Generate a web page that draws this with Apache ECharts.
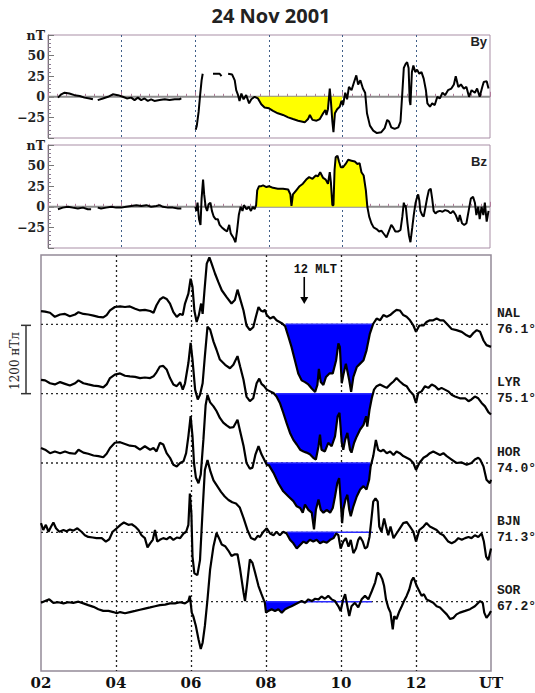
<!DOCTYPE html>
<html><head><meta charset="utf-8">
<script src="https://cdn.jsdelivr.net/npm/echarts@6/dist/echarts.min.js"></script>
<style>html,body{margin:0;padding:0;background:#fff}#c{width:535px;height:693px}</style>
</head><body><div id="c"></div>
<script>
// ---------- DATA ----------
const title = '24 Nov 2001';
const timeLabels = ['02','04','06','08','10','12','UT'];   // at 2,4,...,14 h UT
const imfNames = ['By','Bz'];
const imfUnit = 'nT';

// IMF By (nT), [UT hour, value]; null = data gap
const byData = [[2.27,-1],[2.36,3],[2.45,5],[2.58,4],[2.72,2],[2.86,1],[2.99,-1],[3.13,-2],[3.22,-3],[3.27,null],[3.35,-4],[3.49,-2],[3.63,0],[3.76,3],[3.90,2],[4.03,0],[4.14,-2],[4.26,-1],[4.35,-4],[4.44,-1],[4.53,-4],[4.62,-2],[4.71,-5],[4.80,-3],[4.89,-5],[5.03,-4],[5.17,-3],[5.30,-4],[5.44,-3],[5.57,-3],[5.62,-2],[5.80,null],
[6.01,-40],[6.04,-35],[6.09,-18],[6.13,2],[6.17,20],[6.20,28],[6.30,null],[6.48,28],[6.66,28],[6.71,25],[6.80,null],
[6.89,28],[7.00,27],[7.07,20],[7.11,8],[7.16,2],[7.20,-5],[7.25,4],[7.31,-3],[7.38,2],[7.46,-8],[7.52,-3],[7.61,0],[7.70,-2],[7.79,-9],[7.88,-13],
[8.00,-14],[8.11,-17],[8.24,-20],[8.38,-22],[8.52,-25],[8.65,-27],[8.79,-29],[8.88,-30],[8.97,-31],[9.06,-27],[9.11,-22],[9.18,-28],[9.29,-29],[9.38,-27],[9.47,-20],[9.53,-16],[9.56,-22],[9.60,-15],[9.65,10],[9.68,-5],[9.72,-30],[9.75,-43],[9.79,-20],[9.85,-15],[9.92,-12],[9.97,-5],
[10.01,-10],[10.07,5],[10.12,-3],[10.17,12],[10.24,8],[10.31,18],[10.37,26],[10.42,15],[10.48,20],[10.55,10],[10.61,5],[10.66,-20],[10.74,-35],[10.83,-41],[10.93,-44],[11.05,-43],[11.14,-38],[11.21,-28],[11.26,-30],[11.32,-37],[11.41,-39],[11.51,-37],[11.57,-30],[11.62,5],[11.66,35],[11.71,40],[11.75,42],[11.79,35],[11.82,-5],[11.84,-10],[11.88,30],[11.92,38],[11.97,30],
[12.02,33],[12.08,28],[12.14,30],[12.20,22],[12.26,8],[12.30,-8],[12.37,-12],[12.43,-8],[12.50,-10],[12.57,0],[12.64,-2],[12.71,5],[12.78,2],[12.86,8],[12.95,10],[13.02,15],[13.07,25],[13.14,12],[13.21,15],[13.29,10],[13.36,12],[13.43,0],[13.50,8],[13.59,5],[13.65,10],[13.72,0],[13.79,12],[13.83,18],[13.91,19],[13.96,10]];

// IMF Bz (nT)
const bzData = [[2.27,-3],[2.40,-1],[2.54,0],[2.67,-1],[2.81,-2],[2.95,-1],[3.08,-3],[3.17,-3],[3.22,null],[3.35,-1],[3.44,-2],[3.58,-1],[3.72,0],[3.85,-1],[3.99,-1],[4.12,0],[4.26,1],[4.40,2],[4.53,1],[4.67,2],[4.80,0],[4.94,1],[5.03,2],[5.12,0],[5.26,-1],[5.39,-1],[5.53,-2],[5.62,-2],[5.80,null],
[6.00,0],[6.03,-5],[6.06,5],[6.10,-15],[6.14,-22],[6.17,10],[6.21,33],[6.24,15],[6.28,0],[6.32,-5],[6.36,3],[6.41,5],[6.45,-5],[6.50,-12],[6.55,-15],[6.61,-15],[6.66,-22],[6.72,-25],[6.80,-28],[6.86,-30],[6.92,-22],[6.96,-32],[7.00,-35],[7.04,-38],[7.09,-43],[7.13,-30],[7.18,-10],[7.23,0],[7.28,-5],[7.32,2],[7.39,-3],[7.45,0],[7.51,-5],[7.56,0],[7.61,-3],[7.65,2],[7.68,20],[7.73,25],[7.79,25],[7.84,26],[7.93,24],
[8.00,25],[8.11,23],[8.24,22],[8.38,22],[8.52,21],[8.58,15],[8.61,1],[8.65,15],[8.74,20],[8.83,25],[8.92,28],[9.01,33],[9.09,36],[9.18,34],[9.27,38],[9.33,37],[9.39,42],[9.47,35],[9.54,33],[9.60,28],[9.65,42],[9.68,30],[9.72,2],[9.75,2],[9.78,45],[9.81,60],[9.86,62],[9.90,55],[9.95,48],
[10.01,48],[10.08,52],[10.15,57],[10.24,56],[10.33,55],[10.40,52],[10.46,53],[10.51,42],[10.57,38],[10.63,20],[10.67,0],[10.72,-12],[10.78,-20],[10.84,-25],[10.92,-27],[10.99,-30],[11.05,-29],[11.12,-33],[11.19,-37],[11.25,-30],[11.32,-22],[11.37,-25],[11.43,-30],[11.51,-30],[11.57,-28],[11.62,-12],[11.66,5],[11.69,0],[11.71,2],[11.76,-20],[11.80,-35],[11.84,-43],[11.89,-25],[11.93,-10],[11.98,5],
[12.01,10],[12.05,15],[12.08,8],[12.11,-5],[12.16,-10],[12.20,-12],[12.25,0],[12.29,10],[12.34,20],[12.39,22],[12.43,10],[12.47,-5],[12.52,-8],[12.57,-6],[12.64,-5],[12.71,-6],[12.78,-4],[12.86,-5],[12.93,-8],[13.00,-5],[13.07,-10],[13.14,-18],[13.18,-10],[13.24,-20],[13.30,-22],[13.36,-20],[13.42,-5],[13.48,10],[13.54,12],[13.59,5],[13.63,-10],[13.68,0],[13.72,-15],[13.77,0],[13.82,-10],[13.86,5],[13.91,-18],[13.96,-5]];

// Ground magnetometers: station, latitude, deviation from baseline (nT)
const stations = ['NAL','LYR','HOR','BJN','SOR'];
const latitudes = ['76.1°','75.1°','74.0°','71.3°','67.2°'];
const scaleBar = 1200;   // nT, spacing between baselines
const scaleLabel = '1200 нТл';

const nalData = [[2.00,230],[2.11,220],[2.24,200],[2.37,130],[2.51,170],[2.64,180],[2.77,140],[2.91,170],[3.00,210],[3.13,180],[3.26,170],[3.40,150],[3.53,130],[3.66,120],[3.75,160],[3.84,240],[3.97,300],[4.11,310],[4.24,300],[4.37,310],[4.51,270],[4.64,240],[4.77,250],[4.91,230],[5.00,200],[5.08,330],[5.17,430],[5.26,470],[5.35,440],[5.44,360],[5.53,210],[5.62,130],[5.71,180],[5.78,160],[5.84,360],[5.93,530],[5.99,790],[6.04,650],[6.09,240],[6.15,40],[6.21,160],[6.27,360],[6.31,180],[6.36,590],[6.42,1050],[6.49,1160],[6.55,1050],[6.64,880],[6.73,730],[6.82,590],[6.95,470],[7.08,360],[7.17,420],[7.24,600],[7.31,440],[7.40,240],[7.48,-20],[7.57,-100],[7.66,-50],[7.73,130],[7.80,300],[7.86,240],[7.92,220],[7.97,250],[8.02,160],[8.11,100],[8.20,130],[8.28,70],[8.42,20],[8.51,-30],[8.60,-220],[8.68,-390],[8.77,-620],[8.86,-850],[8.95,-970],[9.04,-1000],[9.13,-1040],[9.22,-1110],[9.31,-1170],[9.37,-1050],[9.41,-770],[9.46,-1000],[9.53,-1050],[9.60,-910],[9.69,-850],[9.78,-850],[9.87,-620],[9.93,-330],[9.97,-390],[10.02,-1020],[10.06,-880],[10.13,-680],[10.22,-970],[10.27,-1170],[10.33,-910],[10.42,-740],[10.51,-680],[10.60,-620],[10.68,-450],[10.77,-160],[10.86,10],[10.95,100],[11.04,70],[11.13,160],[11.22,130],[11.31,160],[11.40,210],[11.48,250],[11.57,240],[11.66,160],[11.75,130],[11.84,70],[11.93,-20],[12.00,-130],[12.09,-20],[12.20,-20],[12.28,40],[12.37,70],[12.46,70],[12.55,100],[12.64,70],[12.73,70],[12.82,10],[12.95,-80],[13.08,-100],[13.22,-130],[13.35,-190],[13.44,-220],[13.53,-150],[13.62,-100],[13.71,-130],[13.80,-280],[13.88,-360],[14.00,-390]];

const lyrData = [[2.00,240],[2.11,230],[2.24,180],[2.37,160],[2.51,200],[2.64,170],[2.77,140],[2.91,180],[3.00,230],[3.13,180],[3.26,160],[3.40,140],[3.53,130],[3.66,110],[3.75,160],[3.84,270],[3.97,330],[4.11,350],[4.24,310],[4.37,300],[4.51,290],[4.64,270],[4.77,280],[4.91,270],[5.00,300],[5.08,370],[5.17,470],[5.26,480],[5.35,420],[5.44,270],[5.53,160],[5.62,130],[5.71,200],[5.78,70],[5.84,180],[5.93,530],[5.99,880],[6.04,590],[6.11,70],[6.18,-100],[6.24,-20],[6.31,180],[6.37,650],[6.44,1160],[6.51,1110],[6.60,900],[6.68,760],[6.77,590],[6.91,500],[7.04,440],[7.13,500],[7.24,650],[7.31,470],[7.40,240],[7.48,-50],[7.57,-130],[7.66,-80],[7.75,180],[7.82,260],[7.88,170],[7.95,130],[8.02,70],[8.11,40],[8.20,10],[8.28,-50],[8.37,-160],[8.46,-330],[8.55,-510],[8.64,-680],[8.73,-800],[8.82,-880],[8.91,-970],[9.00,-1000],[9.08,-1020],[9.17,-1050],[9.26,-1110],[9.33,-1140],[9.40,-910],[9.44,-710],[9.48,-970],[9.57,-1000],[9.66,-850],[9.75,-910],[9.84,-740],[9.91,-390],[9.96,-330],[10.02,-850],[10.06,-970],[10.11,-800],[10.17,-680],[10.24,-970],[10.28,-1020],[10.35,-850],[10.42,-740],[10.51,-620],[10.60,-540],[10.67,-390],[10.70,-570],[10.76,-280],[10.82,-80],[10.88,70],[10.95,130],[11.04,160],[11.13,130],[11.22,100],[11.31,160],[11.40,210],[11.48,270],[11.57,210],[11.66,160],[11.75,130],[11.84,40],[11.93,-20],[12.00,-160],[12.06,10],[12.15,40],[12.24,130],[12.33,100],[12.42,160],[12.51,130],[12.60,70],[12.68,100],[12.77,70],[12.86,40],[12.95,-20],[13.04,-50],[13.17,-80],[13.31,-80],[13.40,-130],[13.48,-100],[13.57,-50],[13.66,-80],[13.75,-160],[13.84,-220],[13.93,-320],[14.00,-360]];

const horData = [[2.00,260],[2.11,230],[2.24,170],[2.37,200],[2.51,170],[2.64,200],[2.77,170],[2.91,160],[3.00,230],[3.13,180],[3.26,160],[3.40,130],[3.53,120],[3.66,100],[3.75,160],[3.84,260],[3.97,350],[4.11,360],[4.24,330],[4.37,300],[4.51,290],[4.64,230],[4.77,290],[4.91,230],[5.00,260],[5.08,200],[5.17,350],[5.26,320],[5.35,170],[5.44,90],[5.53,-30],[5.62,-60],[5.71,0],[5.80,30],[5.87,170],[5.93,460],[5.99,810],[6.04,460],[6.08,0],[6.13,-250],[6.20,-350],[6.26,-200],[6.33,400],[6.39,1000],[6.44,1180],[6.51,1050],[6.60,980],[6.68,900],[6.77,780],[6.86,700],[6.95,650],[7.04,610],[7.13,620],[7.24,750],[7.31,550],[7.40,300],[7.48,0],[7.57,-100],[7.64,-80],[7.72,150],[7.80,290],[7.88,150],[7.95,60],[8.02,-30],[8.08,-40],[8.20,-170],[8.33,-350],[8.46,-490],[8.60,-580],[8.73,-660],[8.82,-750],[8.91,-780],[8.98,-860],[9.04,-720],[9.13,-810],[9.22,-860],[9.28,-1150],[9.33,-810],[9.40,-630],[9.46,-810],[9.53,-860],[9.62,-810],[9.71,-860],[9.78,-780],[9.84,-580],[9.90,-350],[9.95,-260],[9.99,-630],[10.03,-1040],[10.06,-810],[10.12,-630],[10.17,-550],[10.22,-810],[10.26,-920],[10.33,-750],[10.42,-580],[10.51,-460],[10.60,-400],[10.68,-460],[10.75,-290],[10.79,-60],[10.86,120],[10.93,400],[10.99,230],[11.06,200],[11.13,230],[11.22,170],[11.31,200],[11.40,140],[11.48,200],[11.57,170],[11.66,120],[11.75,90],[11.84,60],[11.93,0],[12.00,-120],[12.09,0],[12.20,90],[12.28,120],[12.37,170],[12.46,200],[12.55,170],[12.64,140],[12.73,170],[12.82,120],[12.95,60],[13.08,0],[13.22,10],[13.35,-30],[13.48,0],[13.57,60],[13.66,90],[13.71,60],[13.80,-60],[13.88,-290],[13.97,-350],[14.00,-290]];

const bjnData = [[2.00,160],[2.06,40],[2.13,130],[2.20,10],[2.27,100],[2.33,170],[2.40,70],[2.49,10],[2.60,40],[2.68,20],[2.77,50],[2.86,30],[2.97,70],[3.08,10],[3.17,-50],[3.26,-80],[3.38,-90],[3.48,-100],[3.62,-100],[3.73,-160],[3.82,-120],[3.91,10],[4.02,70],[4.12,130],[4.21,170],[4.33,130],[4.42,140],[4.51,100],[4.60,40],[4.68,-50],[4.77,-100],[4.84,-260],[4.91,-190],[4.98,-130],[5.04,40],[5.10,-160],[5.17,-130],[5.26,-100],[5.35,-120],[5.44,-80],[5.53,-130],[5.62,-90],[5.71,-100],[5.80,-20],[5.87,10],[5.93,130],[5.97,670],[6.01,330],[6.04,-420],[6.09,-710],[6.17,-740],[6.24,-480],[6.31,390],[6.37,1080],[6.44,1250],[6.52,1050],[6.60,900],[6.70,800],[6.80,700],[6.90,620],[7.00,560],[7.10,520],[7.20,500],[7.30,430],[7.40,250],[7.50,50],[7.60,-100],[7.70,-130],[7.78,-60],[7.84,-80],[7.93,10],[8.02,70],[8.11,-20],[8.20,-50],[8.28,10],[8.37,-50],[8.46,10],[8.55,-20],[8.64,-130],[8.73,-190],[8.82,-280],[8.91,-220],[9.00,-160],[9.08,-190],[9.17,-130],[9.26,-160],[9.35,-130],[9.44,-190],[9.53,-160],[9.62,-180],[9.71,-130],[9.80,-100],[9.87,-20],[9.93,-50],[9.99,-280],[10.06,-160],[10.13,-100],[10.20,-250],[10.26,-130],[10.33,-360],[10.40,-280],[10.46,-130],[10.51,-80],[10.58,-160],[10.64,-280],[10.70,-250],[10.76,-80],[10.80,160],[10.86,530],[10.92,590],[10.98,530],[11.02,100],[11.08,10],[11.15,240],[11.20,100],[11.26,-50],[11.32,100],[11.40,-100],[11.48,-20],[11.57,70],[11.66,160],[11.75,180],[11.84,100],[11.93,10],[12.00,-160],[12.09,40],[12.20,100],[12.28,160],[12.37,100],[12.46,70],[12.55,40],[12.64,-20],[12.73,-50],[12.86,-160],[12.95,-190],[13.04,-160],[13.13,-100],[13.22,-130],[13.31,-100],[13.40,-80],[13.48,-100],[13.57,-50],[13.66,-80],[13.75,-20],[13.81,-160],[13.87,-420],[13.93,-480],[14.00,-280]];

const sorData = [[2.00,-20],[2.11,10],[2.22,40],[2.33,-20],[2.46,-10],[2.60,-30],[2.73,-10],[2.86,-20],[3.00,0],[3.13,-30],[3.26,-60],[3.40,-90],[3.53,-130],[3.66,-160],[3.80,-160],[3.93,-180],[4.02,-200],[4.11,-180],[4.24,-200],[4.37,-180],[4.51,-160],[4.64,-140],[4.77,-120],[4.91,-100],[5.04,-80],[5.17,-60],[5.31,-50],[5.44,-30],[5.57,-30],[5.71,-10],[5.84,-30],[5.93,10],[5.97,100],[6.02,-190],[6.06,-250],[6.13,-420],[6.20,-650],[6.26,-820],[6.31,-710],[6.37,-420],[6.44,40],[6.51,560],[6.60,960],[6.68,1190],[6.76,1080],[6.82,990],[6.91,960],[7.00,880],[7.08,790],[7.17,820],[7.24,820],[7.31,560],[7.40,160],[7.44,10],[7.50,330],[7.57,730],[7.64,670],[7.71,500],[7.80,270],[7.88,130],[7.97,-20],[8.00,-190],[8.06,-160],[8.15,-130],[8.24,-160],[8.33,-130],[8.42,-190],[8.51,-130],[8.60,-100],[8.68,-80],[8.77,-50],[8.86,-20],[8.95,10],[9.04,-20],[9.13,40],[9.22,10],[9.31,50],[9.40,40],[9.48,90],[9.57,50],[9.66,100],[9.75,40],[9.84,10],[9.93,-80],[9.99,-160],[10.06,40],[10.11,130],[10.17,-80],[10.22,-250],[10.28,-80],[10.37,-20],[10.46,-100],[10.55,40],[10.64,100],[10.73,40],[10.82,180],[10.91,330],[10.97,500],[11.04,470],[11.10,390],[11.15,270],[11.20,40],[11.26,-100],[11.32,-190],[11.38,-480],[11.42,-250],[11.48,-300],[11.56,-160],[11.62,-80],[11.68,10],[11.75,100],[11.82,210],[11.88,360],[11.93,420],[11.97,360],[12.02,270],[12.09,180],[12.15,100],[12.21,130],[12.28,40],[12.37,10],[12.46,-20],[12.55,-80],[12.64,-100],[12.73,-160],[12.82,-220],[12.91,-300],[13.00,-280],[13.08,-220],[13.17,-190],[13.31,-160],[13.44,-130],[13.57,-80],[13.71,10],[13.78,-20],[13.82,-190],[13.88,-280],[13.95,-220],[14.00,-160]];

const stationData = [nalData, lyrData, horData, bjnData, sorData];
const baselines = [4800, 3600, 2400, 1200, 0];      // stacked baselines (nT)
// shaded (negative) intervals and marked baseline intervals, UT hours
const fillRanges = [[8.52,10.86],[8.26,10.86],[8.03,10.78],[8.57,9.84],[7.98,8.92]];
const markRanges = [[8.52,10.86],[8.26,10.86],[8.03,10.78],[8.57,10.82],[7.98,10.82]];
const byFill = [7.63, 9.99];   // By < 0 shaded
const bzFill = [7.66, 10.67];  // Bz > 0 shaded
const mltTime = 9.02;          // 12 MLT marker (UT hours)

// ---------- CHART ----------
const serifB = "'DejaVu Serif', serif";
const mono = "'Liberation Mono', monospace";
const chart = echarts.init(document.getElementById('c'), null, {renderer: 'svg'});

function clipFill(data, t0, t1, base, below) {
  const out = [[t0, base]];
  data.forEach(([t, v]) => {
    if (v === null || t <= t0 || t >= t1) return;
    out.push([t, below ? Math.min(v, base) : Math.max(v, base)]);
  });
  out.push([t1, base]);
  return out;
}
const toLine = d => d.map(([t, v]) => [t, v === null ? '-' : v]);

const gridBorder = '#a98fa6';
const grids = [
  {left: 48, right: 45, top: 35, height: 103, show: true, borderColor: gridBorder, borderWidth: 1},
  {left: 48, right: 45, top: 145, height: 103, show: true, borderColor: gridBorder, borderWidth: 1},
  {left: 41, right: 44, top: 255, height: 416, show: true, borderColor: '#948a98', borderWidth: 1.5}
];

const topX = i => ({
  type: 'value', gridIndex: i, min: 2, max: 14, interval: 2,
  axisLine: {show: false}, axisLabel: {show: false},
  axisTick: {show: true, inside: true, length: 5, lineStyle: {color: '#b07a9a'}},
  minorTick: {show: true, splitNumber: 8, length: 3, lineStyle: {color: '#b07a9a'}},
  splitLine: {show: true, showMinLine: false, showMaxLine: false, lineStyle: {type: [2, 3], color: '#3f5f88', width: 1}}
});
const topY = i => ({
  type: 'value', gridIndex: i, min: -50, max: 75, interval: 25,
  axisLine: {show: true, lineStyle: {color: '#777', width: 1}},
  axisTick: {show: true, inside: true, length: 6, lineStyle: {color: '#777'}},
  minorTick: {show: true, splitNumber: 5, length: 3, lineStyle: {color: '#8a7a90'}},
  splitLine: {show: false},
  axisLabel: {
    margin: 3, color: '#222', fontFamily: serifB, fontWeight: 'bold', fontSize: 12.5,
    formatter: v => v === 75 ? imfUnit : (v === -50 ? '' : (v < 0 ? '\u2212' + Math.abs(v) : String(v)))
  }
});

const series = [];
// zero lines
[0, 1].forEach(i => series.push({
  type: 'line', xAxisIndex: i, yAxisIndex: i, data: [[2, 0], [14, 0]], symbol: 'none', silent: true,
  lineStyle: {color: '#8c8c8c', width: 2}, z: 1
}));
// yellow fills
series.push({type: 'line', xAxisIndex: 0, yAxisIndex: 0, data: clipFill(byData, byFill[0], byFill[1], 0, true),
  symbol: 'none', lineStyle: {width: 0}, areaStyle: {color: '#ffff00', opacity: 1, origin: 0}, z: 2, silent: true});
series.push({type: 'line', xAxisIndex: 1, yAxisIndex: 1, data: clipFill(bzData, bzFill[0], bzFill[1], 0, false),
  symbol: 'none', lineStyle: {width: 0}, areaStyle: {color: '#ffff00', opacity: 1, origin: 0}, z: 2, silent: true});
// IMF curves
[byData, bzData].forEach((d, i) => series.push({
  type: 'line', xAxisIndex: i, yAxisIndex: i, data: toLine(d), symbol: 'none', connectNulls: false,
  lineStyle: {color: '#000', width: 2}, z: 3, silent: true
}));

// ground stations
stationData.forEach((d, k) => {
  const base = baselines[k];
  const abs = d.map(([t, v]) => [t, v + base]);
  series.push({type: 'line', xAxisIndex: 2, yAxisIndex: 2, data: [[2, base], [14, base]], symbol: 'none', silent: true,
    lineStyle: {color: '#2b2b2b', width: 1.3, type: [2, 3]}, z: 1});
  series.push({type: 'line', xAxisIndex: 2, yAxisIndex: 2, data: clipFill(abs, fillRanges[k][0], fillRanges[k][1], base, true),
    symbol: 'none', lineStyle: {width: 0}, areaStyle: {color: '#0000ff', opacity: 1, origin: base}, z: 2, silent: true});
  series.push({type: 'line', xAxisIndex: 2, yAxisIndex: 2, data: [[markRanges[k][0], base], [markRanges[k][1], base]],
    symbol: 'none', lineStyle: {color: '#2a2aff', width: 1.5}, z: 2, silent: true});
  series.push({type: 'line', xAxisIndex: 2, yAxisIndex: 2, data: abs, symbol: 'none',
    lineStyle: {color: '#000', width: 2.2}, z: 3, silent: true});
});

const option = {
  animation: false,
  backgroundColor: '#fff',
  grid: grids,
  xAxis: [topX(0), topX(1), {
    type: 'value', gridIndex: 2, min: 2, max: 14, interval: 2,
    axisLine: {show: false}, axisTick: {show: false},
    splitLine: {show: true, showMinLine: false, showMaxLine: false, lineStyle: {type: [2, 3], color: '#222', width: 1.3}},
    axisLabel: {margin: 4, color: '#111', fontFamily: serifB, fontWeight: 'bold', fontSize: 15,
      formatter: v => timeLabels[Math.round((v - 2) / 2)]}
  }],
  yAxis: [topY(0), topY(1), {
    type: 'value', gridIndex: 2, min: -1200, max: 6000, interval: 1200,
    axisLine: {show: false}, axisTick: {show: false}, axisLabel: {show: false},
    splitLine: {show: false}
  }],
  series: series
};
chart.setOption(option);

// annotations positioned via the chart's own scales
const px = (t, v, gi) => chart.convertToPixel({gridIndex: gi}, [t, v]);
const g = [];
g.push({type: 'text', x: 271, y: 15, style: {text: title, font: "bold 20px 'Open Sans'", fill: '#222', textAlign: 'center', textVerticalAlign: 'middle'}});
const byPos = px(14, 75, 0), bzPos = px(14, 75, 1);
g.push({type: 'text', x: byPos[0] - 3, y: byPos[1] + 6, style: {text: imfNames[0], font: "bold 13px 'Liberation Sans'", fill: '#222', textAlign: 'right', textVerticalAlign: 'middle'}});
g.push({type: 'text', x: bzPos[0] - 3, y: bzPos[1] + 16, style: {text: imfNames[1], font: "bold 13px 'Liberation Sans'", fill: '#222', textAlign: 'right', textVerticalAlign: 'middle'}});
stations.forEach((s, k) => {
  const p = px(14, baselines[k], 2);
  g.push({type: 'text', x: p[0] + 6, y: p[1] - 11, style: {text: s, font: "bold 13px " + mono, fill: '#1a1a1a', textAlign: 'left', textVerticalAlign: 'middle'}});
  g.push({type: 'text', x: p[0] + 6, y: p[1] + 5, style: {text: latitudes[k], font: "bold 13px " + mono, fill: '#1a1a1a', textAlign: 'left', textVerticalAlign: 'middle'}});
});
// MLT arrow
const a0 = px(mltTime, 5620, 2), a1 = px(mltTime, 5150, 2);
g.push({type: 'text', x: a0[0] + 11, y: a0[1] - 7, style: {text: '12 MLT', font: "bold 12px " + mono, fill: '#111', textAlign: 'center', textVerticalAlign: 'middle'}});
g.push({type: 'line', shape: {x1: a0[0], y1: a0[1], x2: a1[0], y2: a1[1] - 4}, style: {stroke: '#000', lineWidth: 1.6}});
g.push({type: 'polygon', shape: {points: [[a1[0] - 4, a1[1] - 7], [a1[0] + 4, a1[1] - 7], [a1[0], a1[1]]]}, style: {fill: '#000'}});
// scale bar
const s0 = px(2, baselines[0], 2), s1 = px(2, baselines[0] - scaleBar, 2);
const sx = s0[0] - 15;
g.push({type: 'line', shape: {x1: sx, y1: s0[1] + 1, x2: sx, y2: s1[1]}, style: {stroke: '#333', lineWidth: 1.5}});
g.push({type: 'line', shape: {x1: sx - 5, y1: s0[1] + 1, x2: sx + 5, y2: s0[1] + 1}, style: {stroke: '#333', lineWidth: 1.5}});
g.push({type: 'line', shape: {x1: sx - 5, y1: s1[1], x2: sx + 5, y2: s1[1]}, style: {stroke: '#333', lineWidth: 1.5}});
g.push({type: 'text', x: sx - 11, y: (s0[1] + s1[1]) / 2 + 2, rotation: Math.PI / 2,
  style: {text: scaleLabel, font: "12px 'DejaVu Serif'", fill: '#222', textAlign: 'center', textVerticalAlign: 'middle'}});
chart.setOption({graphic: g});
</script>
</body></html>
